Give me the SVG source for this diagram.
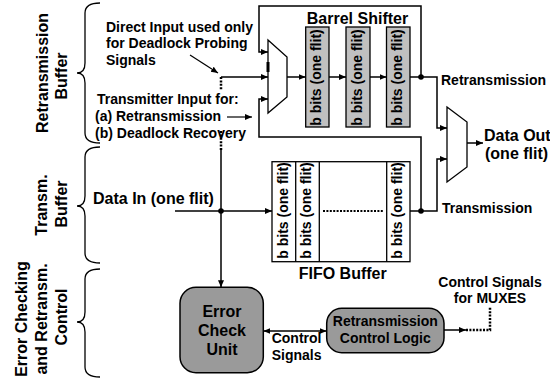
<svg xmlns="http://www.w3.org/2000/svg" width="550" height="381" viewBox="0 0 550 381">
  <style>
    text { font-family: "Liberation Sans", Arial, Helvetica, sans-serif; font-weight: bold; fill: #000; }
    .t14 { font-size: 14px; }
    .t16 { font-size: 16px; }
    .mid { text-anchor: middle; }
    .wire { fill: none; stroke: #000; stroke-width: 1.5; }
    .arr { marker-end: url(#ah); }
    .dot { fill: none; stroke: #000; stroke-width: 2.5; stroke-dasharray: 2 1.4; }
    .brace { fill: none; stroke: #000; stroke-width: 1.3; }
    .reg { fill: #c0c0c0; stroke: #000; stroke-width: 1.3; }
    .cell { fill: #fff; stroke: #000; stroke-width: 1.3; }
    .unit { fill: #9a9a9a; stroke: #000; stroke-width: 1.5; }
    .mux { fill: #fff; stroke: #000; stroke-width: 1.3; }
    .jn { fill: #000; }
  </style>
  <defs>
    <marker id="ah" markerUnits="userSpaceOnUse" markerWidth="8" markerHeight="8" refX="7" refY="3" orient="auto-start-reverse">
      <path d="M0,0 L7,3 L0,6 z" fill="#000"/>
    </marker>
  </defs>

  <rect width="550" height="381" fill="#fff"/>

  <!-- section braces and their labels -->
  <g id="section-retransmission-buffer">
    <path class="brace" d="M100,3 Q85,3 85,13 V63 Q85,73 77,73 Q85,73 85,83 V133 Q85,143 100,143"/>
    <text class="t16 mid" x="48" y="73" transform="rotate(-90 48 73)">Retransmission</text>
    <text class="t16 mid" x="67" y="76" transform="rotate(-90 67 76)">Buffer</text>
  </g>
  <g id="section-transm-buffer">
    <path class="brace" d="M100,147 Q85,147 85,157 V196 Q85,206 77,206 Q85,206 85,216 V253 Q85,263 100,263"/>
    <text class="t16 mid" x="47" y="205" transform="rotate(-90 47 205)">Transm.</text>
    <text class="t16 mid" x="67" y="204" transform="rotate(-90 67 204)">Buffer</text>
  </g>
  <g id="section-error-control">
    <path class="brace" d="M100,269 Q85,269 85,279 V312 Q85,322 77,322 Q85,322 85,332 V367 Q85,377 100,377"/>
    <text class="t16 mid" x="27" y="319" transform="rotate(-90 27 319)">Error Checking</text>
    <text class="t16 mid" x="47" y="319" transform="rotate(-90 47 319)">and Retransm.</text>
    <text class="t16 mid" x="67" y="317" transform="rotate(-90 67 317)">Control</text>
  </g>

  <!-- input annotations -->
  <g id="label-direct-input">
    <text class="t14" x="106" y="31.5">Direct Input used only</text>
    <text class="t14" x="106" y="48">for Deadlock Probing</text>
    <text class="t14" x="106" y="65">Signals</text>
  </g>
  <g id="label-transmitter-input">
    <text class="t14" x="97" y="104">Transmitter Input for:</text>
    <text class="t14" x="95" y="121">(a) Retransmission</text>
    <text class="t14" x="95" y="138">(b) Deadlock Recovery</text>
  </g>
  <g id="label-data-in">
    <text class="t16" x="93" y="204">Data In (one flit)</text>
  </g>

  <!-- input multiplexer -->
  <g id="mux-in">
    <polygon class="mux" points="268,40 287,57 287,97 268,113"/>
    <line x1="268" y1="62" x2="268" y2="72" stroke="#000" stroke-width="3"/>
  </g>

  <!-- barrel shifter -->
  <g id="barrel-shifter">
    <text class="t16 mid" x="357.5" y="24">Barrel Shifter</text>
    <rect class="reg" x="305.7" y="27" width="23.3" height="100"/>
    <rect class="reg" x="346" y="27" width="24" height="100"/>
    <rect class="reg" x="386.5" y="27" width="23.5" height="100"/>
    <text class="t14 mid" x="321.3" y="77.5" transform="rotate(-90 321.3 77.5)">b bits (one flit)</text>
    <text class="t14 mid" x="361.8" y="77.5" transform="rotate(-90 361.8 77.5)">b bits (one flit)</text>
    <text class="t14 mid" x="402.1" y="77.5" transform="rotate(-90 402.1 77.5)">b bits (one flit)</text>
  </g>

  <!-- FIFO buffer -->
  <g id="fifo-buffer">
    <rect class="cell" x="272" y="161.7" width="138" height="100"/>
    <line class="wire" x1="295.7" y1="161.7" x2="295.7" y2="261.7" style="stroke-width:1.3"/>
    <line class="wire" x1="319.3" y1="161.7" x2="319.3" y2="261.7" style="stroke-width:1.3"/>
    <line class="wire" x1="386.7" y1="161.7" x2="386.7" y2="261.7" style="stroke-width:1.3"/>
    <text class="t14 mid" x="287.5" y="210.5" transform="rotate(-90 287.5 210.5)">b bits (one flit)</text>
    <text class="t14 mid" x="311.2" y="210.5" transform="rotate(-90 311.2 210.5)">b bits (one flit)</text>
    <text class="t14 mid" x="402.4" y="210.5" transform="rotate(-90 402.4 210.5)">b bits (one flit)</text>
    <line class="dot" x1="323" y1="211" x2="383" y2="211" style="stroke-width:2"/>
    <text class="t16 mid" x="342.7" y="279">FIFO Buffer</text>
  </g>

  <!-- output multiplexer -->
  <g id="mux-out">
    <polygon class="mux" points="447,107 467,122 467,167 447,182"/>
    <text class="t14" x="441" y="85">Retransmission</text>
    <text class="t14" x="442" y="213">Transmission</text>
    <text class="t16" x="484" y="140.7">Data Out</text>
    <text class="t16" x="485" y="159">(one flit)</text>
  </g>

  <!-- error check unit -->
  <g id="error-check-unit">
    <rect class="unit" x="180" y="287.3" width="83.3" height="85.4" rx="16" ry="16"/>
    <text class="t16 mid" x="222" y="317">Error</text>
    <text class="t16 mid" x="222" y="336">Check</text>
    <text class="t16 mid" x="222" y="355">Unit</text>
  </g>

  <!-- retransmission control logic -->
  <g id="retransmission-control-logic">
    <rect class="unit" x="326.7" y="308.3" width="117.3" height="44.4" rx="15" ry="15"/>
    <text class="t14 mid" x="385.3" y="326">Retransmission</text>
    <text class="t14 mid" x="385.3" y="342.7">Control Logic</text>
  </g>

  <g id="label-control-signals">
    <text class="t14" x="271.7" y="343">Control</text>
    <text class="t14" x="271.7" y="360">Signals</text>
  </g>
  <g id="label-mux-control">
    <text class="t14 mid" x="490" y="287">Control Signals</text>
    <text class="t14 mid" x="490" y="303">for MUXES</text>
  </g>

  <!-- connectors -->
  <g id="connectors">
    <!-- feedback of the shifter output into the input mux -->
    <path class="wire arr" d="M421,77 V6 H259 V52 H268"/>
    <!-- feedback of the FIFO output into the input mux -->
    <path class="wire arr" d="M421,211 V137 H259 V99 H268"/>
    <!-- direct input -->
    <path class="wire arr" d="M221,77 H268"/>
    <path class="dot" d="M221,77 V90"/>
    <path class="dot" d="M221,131 V150"/>
    <path class="wire arr" d="M221,150 V287.3"/>
    <!-- shifter chain -->
    <path class="wire arr" d="M287,77 H305.7"/>
    <path class="wire arr" d="M329,77 H346"/>
    <path class="wire arr" d="M370,77 H386.5"/>
    <path class="wire" d="M410,77 H421"/>
    <!-- to output mux -->
    <path class="wire arr" d="M421,77 H437 V128 H447"/>
    <path class="wire" d="M410,211 H421"/>
    <path class="wire arr" d="M421,211 H437 V159 H447"/>
    <path class="wire arr" d="M467,143 H483"/>
    <!-- data in -->
    <path class="wire arr" d="M175,211 H272"/>
    <!-- control -->
    <path class="wire arr" d="M263.3,331 H326.7" style="marker-start:url(#ah)"/>
    <path class="wire arr" d="M444,330 H466"/>
    <path class="dot" d="M466,330 H490 V307"/>
    <!-- annotation pointers -->
    <path class="wire arr" d="M190,55 L218,73" style="stroke-width:1.2"/>
    <path class="wire arr" d="M227,117 H252" style="stroke-width:1.2"/>
    <!-- junctions -->
    <circle class="jn" cx="421" cy="77" r="2.8"/>
    <circle class="jn" cx="421" cy="211" r="2.8"/>
    <circle class="jn" cx="221" cy="211" r="2.8"/>
  </g>
</svg>
